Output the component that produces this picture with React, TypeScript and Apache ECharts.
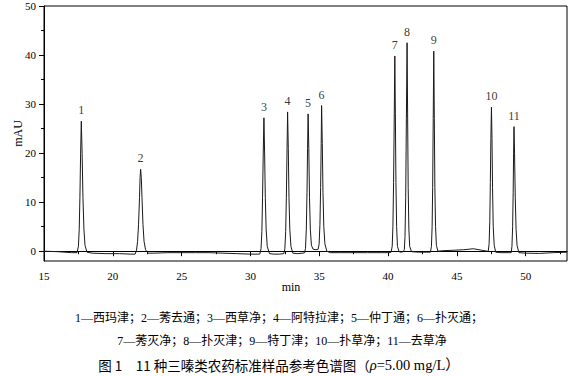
import React, { useEffect, useRef } from "react";
import * as echarts from "echarts";

// Chromatogram trace: [time (min), signal (mAU)]
const signal: [number, number][] = [
  [15, 0], [16, -0.1], [17, -0.3],
  // peak 1
  [17.40, -0.3], [17.50, 1.0], [17.56, 4.5], [17.61, 11], [17.66, 20], [17.71, 26.5], [17.77, 20], [17.83, 11], [17.90, 4.5], [17.98, 1.2], [18.12, -0.2],
  [18.5, -0.4], [19.5, -0.5], [20.5, -0.5], [21.3, -0.6],
  // peak 2
  [21.62, -0.6], [21.72, 0.2], [21.80, 2], [21.87, 5.5], [21.94, 11], [21.98, 15], [22.02, 16.7], [22.07, 15], [22.12, 11], [22.19, 5.5], [22.27, 2], [22.38, 0.3], [22.55, -0.4],
  [23, -0.4], [24, -0.3], [25, -0.3], [26, -0.3], [27, -0.3], [28, -0.4], [29, -0.5], [30, -0.6], [30.6, -0.6],
  // peak 3
  [30.68, -0.6], [30.77, 0.5], [30.83, 4], [30.88, 11], [30.93, 20], [30.98, 27.2], [31.03, 20], [31.08, 11], [31.14, 4.5], [31.22, 1], [31.38, -0.5],
  [31.7, -0.6], [32.1, -0.6],
  // peak 4
  [32.42, -0.5], [32.50, 0.5], [32.56, 4], [32.61, 11], [32.66, 21], [32.70, 28.4], [32.75, 21], [32.80, 11], [32.86, 4.5], [32.94, 1], [33.08, -0.4],
  [33.4, -0.5], [33.8, -0.4],
  // peak 5
  [33.94, -0.3], [34.00, 0.6], [34.06, 4.5], [34.11, 12], [34.15, 21], [34.19, 28], [34.24, 21], [34.29, 11], [34.35, 4.5], [34.43, 1.2], [34.55, 0.4], [34.75, 0.3],
  // peak 6
  [34.92, 0.4], [34.99, 1.5], [35.05, 5.5], [35.10, 13], [35.14, 22], [35.17, 29.7], [35.22, 22], [35.27, 12], [35.33, 5], [35.41, 1.5], [35.55, 0], [35.8, -0.3],
  [36.5, -0.3], [37.5, -0.3], [38.5, -0.3], [39.5, -0.3], [40.15, -0.3],
  // peak 7
  [40.22, -0.2], [40.30, 1], [40.35, 5], [40.40, 14], [40.45, 28], [40.49, 39.8], [40.53, 28], [40.57, 14], [40.62, 5], [40.68, 1], [40.80, -0.1], [40.95, -0.2], [41.10, -0.1],
  // peak 8
  [41.18, 0.3], [41.23, 3], [41.28, 11], [41.33, 27], [41.38, 42.5], [41.42, 28], [41.46, 13], [41.51, 4.5], [41.57, 1], [41.70, -0.1],
  [42.2, -0.2], [42.8, -0.2],
  // peak 9
  [43.08, -0.2], [43.15, 1], [43.20, 5], [43.24, 13], [43.28, 27], [43.32, 40.8], [43.36, 27], [43.40, 13], [43.45, 5], [43.51, 1.2], [43.62, 0],
  [44, 0.1], [44.8, 0.2], [45.5, 0.3], [46.2, 0.5], [46.8, 0.2], [47.2, 0],
  // peak 10
  [47.28, 0], [47.34, 1.5], [47.39, 6], [47.43, 14], [47.47, 23], [47.51, 29.4], [47.55, 23], [47.59, 13], [47.64, 5], [47.71, 1.2], [47.82, -0.2],
  [48.2, -0.3], [48.8, -0.3],
  // peak 11
  [48.95, -0.3], [49.00, 1], [49.05, 5], [49.09, 12], [49.12, 20], [49.15, 25.4], [49.19, 20], [49.24, 11], [49.30, 4.5], [49.37, 1.2], [49.50, -0.3],
  [50, -0.4], [51, -0.45], [52, -0.3], [53, -0.2],
];

const peakNames = ["1", "2", "3", "4", "5", "6", "7", "8", "9", "10", "11"];
const peakTimes = [17.71, 22.02, 30.98, 32.70, 34.19, 35.17, 40.49, 41.38, 43.32, 47.51, 49.15];
const peakHeights = [26.5, 16.7, 27.2, 28.4, 28.0, 29.7, 39.8, 42.5, 40.8, 29.4, 25.4];

const xMajorTicks = [15, 20, 25, 30, 35, 40, 45, 50];
const xMinorTicks = [17.5, 22.5, 27.5, 32.5, 37.5, 42.5, 47.5, 52.5];
const yMajorTicks = [0, 10, 20, 30, 40, 50];
const yMinorTicks = [5, 15, 25, 35, 45];

const captionLine1 = "1—西玛津；2—莠去通；3—西草净；4—阿特拉津；5—仲丁通；6—扑灭通；";
const captionLine2 = "7—莠灭净；8—扑灭津；9—特丁津；10—扑草净；11—去草净";
const captionTitleA = "图 1　11 种三嗪类农药标准样品参考色谱图（";
const captionTitleRho = "ρ";
const captionTitleB = "=5.00 mg/L）";

const SERIF = "'Liberation Serif', 'Times New Roman', 'Noto Sans CJK SC', serif";
const CJK = "'Liberation Serif', 'Noto Sans CJK SC', sans-serif";

export default function App() {
  const ref = useRef<HTMLDivElement>(null);
  useEffect(() => {
    if (!ref.current) return;
    const chart = echarts.init(ref.current, null, { renderer: "svg" });
    const xBase = {
      type: "value" as const,
      min: 15,
      max: 53,
      splitLine: { show: false },
    };
    const yBase = {
      type: "value" as const,
      min: -2,
      max: 50,
      splitLine: { show: false },
    };
    chart.setOption({
      animation: false,
      backgroundColor: "#fff",
      grid: {
        left: 44, right: 14, top: 6, bottom: 115,
        containLabel: false,
        outerBoundsMode: "none",
        show: true, borderColor: "#000", borderWidth: 1, backgroundColor: "transparent",
      },
      xAxis: [
        {
          ...xBase,
          interval: 5,
          axisLine: { lineStyle: { color: "#000", width: 1 } },
          axisTick: { show: true, length: 5, customValues: xMajorTicks, lineStyle: { color: "#000" } },
          axisLabel: { customValues: xMajorTicks, color: "#000", fontFamily: SERIF, fontSize: 11, margin: 9 },
        },
        {
          ...xBase,
          position: "bottom",
          axisLine: { show: false },
          axisTick: { show: true, length: 3, customValues: xMinorTicks, lineStyle: { color: "#000" } },
          axisLabel: { show: false },
        },
      ],
      yAxis: [
        {
          ...yBase,
          axisLine: { show: true, lineStyle: { color: "#000", width: 1 } },
          axisTick: { show: true, length: 5, customValues: yMajorTicks, lineStyle: { color: "#000" } },
          axisLabel: { customValues: yMajorTicks, color: "#000", fontFamily: SERIF, fontSize: 11, margin: 8 },
          name: "mAU",
          nameLocation: "middle",
          nameGap: 20,
          nameMoveOverlap: false,
          nameRotate: 90,
          nameTextStyle: { color: "#000", fontFamily: SERIF, fontSize: 12 },
        },
        {
          ...yBase,
          position: "left",
          axisLine: { show: false },
          axisTick: { show: true, length: 3, customValues: yMinorTicks, lineStyle: { color: "#000" } },
          axisLabel: { show: false },
        },
      ],
      series: [
        {
          type: "line",
          data: signal,
          xAxisIndex: 0,
          yAxisIndex: 0,
          showSymbol: false,
          symbol: "none",
          lineStyle: { color: "#1a1a1a", width: 1 },
          silent: true,
        },
        {
          type: "scatter",
          xAxisIndex: 0,
          yAxisIndex: 0,
          symbolSize: 0,
          itemStyle: { color: "#000" },
          data: peakNames.map((n, i) => ({ name: n, value: [peakTimes[i], peakHeights[i]] })),
          label: {
            show: true,
            position: "top",
            distance: 5,
            formatter: (p: any) => p.name,
            color: "#000",
            textBorderWidth: 0,
            fontFamily: SERIF,
            fontSize: 12,
          },
          silent: true,
        },
      ],
      graphic: [
        {
          type: "text", x: 291, y: 287,
          style: { text: "min", fill: "#000", font: `12px ${SERIF}`, textAlign: "center", textVerticalAlign: "middle" },
        },
        {
          type: "text", x: 279, y: 318,
          style: { text: captionLine1, fill: "#000", font: `12px ${CJK}`, textAlign: "center", textVerticalAlign: "middle" },
        },
        {
          type: "text", x: 282, y: 341,
          style: { text: captionLine2, fill: "#000", font: `12px ${CJK}`, textAlign: "center", textVerticalAlign: "middle" },
        },
        {
          type: "text", x: 279, y: 365,
          style: {
            text: `{a|${captionTitleA}}{r|${captionTitleRho}}{b|${captionTitleB}}`,
            fill: "#000",
            textAlign: "center",
            textVerticalAlign: "middle",
            rich: {
              a: { fontFamily: "'Noto Sans CJK SC', sans-serif", fontSize: 13.5, fill: "#000" },
              r: { fontFamily: SERIF, fontSize: 14.5, fontStyle: "italic", fill: "#000" },
              b: { fontFamily: SERIF, fontSize: 14.5, fill: "#000" },
            },
          },
        },
      ],
    });
    return () => chart.dispose();
  }, []);
  return (
    <div
      ref={ref}
      style={{ position: "fixed", left: 0, top: 0, width: 581, height: 376, background: "#fff" }}
    />
  );
}
